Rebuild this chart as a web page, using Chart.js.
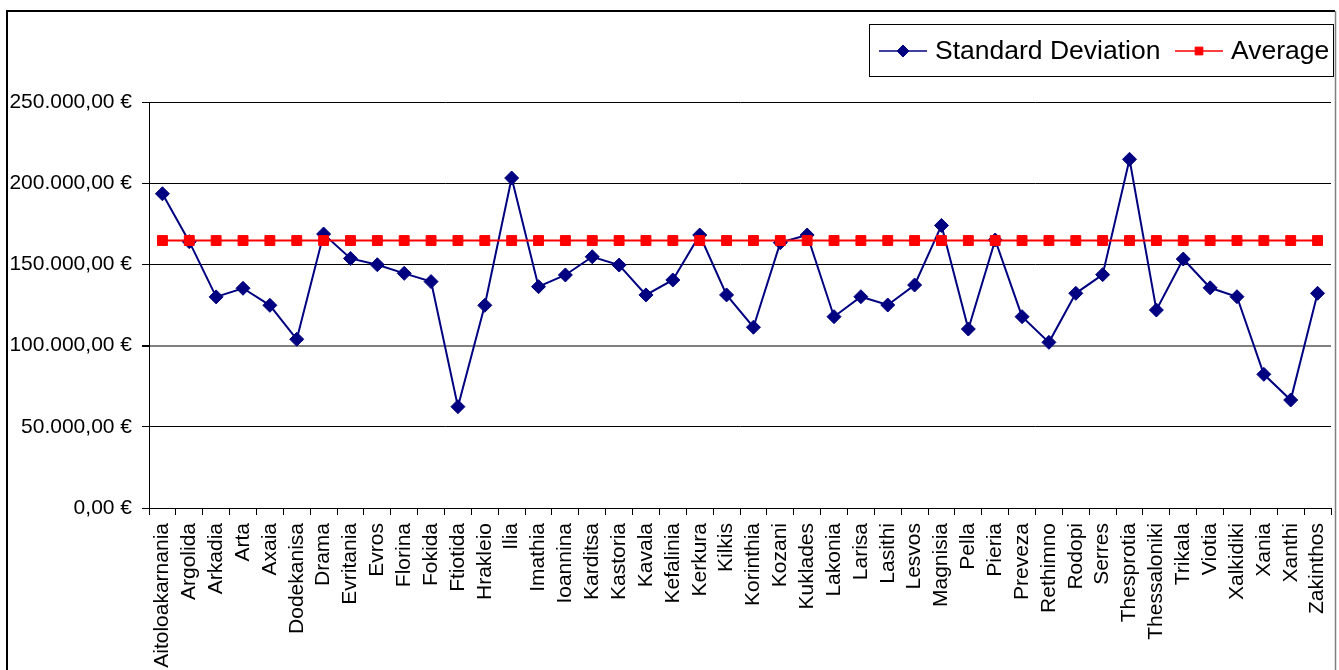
<!DOCTYPE html>
<html>
<head>
<meta charset="utf-8">
<script src="https://cdn.jsdelivr.net/npm/chart.js@4.4.1/dist/chart.umd.min.js"></script>
<style>
  html, body { margin: 0; padding: 0; background: #fff; overflow: hidden; }
  #contenedor { width: 1339px; height: 670px; position: relative; }
</style>
</head>
<body>
<div id="contenedor"><canvas id="grafico"></canvas></div>
<script>
// Datos
const nomos = [
  "Aitoloakarnania", "Argolida", "Arkadia", "Arta", "Axaia", "Dodekanisa", "Drama",
  "Evritania", "Evros", "Florina", "Fokida", "Ftiotida", "Hrakleio", "Ilia", "Imathia",
  "Ioannina", "Karditsa", "Kastoria", "Kavala", "Kefalinia", "Kerkura", "Kilkis",
  "Korinthia", "Kozani", "Kuklades", "Lakonia", "Larisa", "Lasithi", "Lesvos",
  "Magnisia", "Pella", "Pieria", "Preveza", "Rethimno", "Rodopi", "Serres",
  "Thesprotia", "Thessaloniki", "Trikala", "Viotia", "Xalkidiki", "Xania", "Xanthi",
  "Zakinthos"
];

const desviacion = [
  193500, 164000, 130000, 135300, 124800, 103900, 168700,
  153700, 149800, 144500, 139400, 62400, 124800, 203200, 136300,
  143500, 154700, 149600, 131200, 140400, 168100, 131200,
  111300, 163400, 168100, 117800, 130100, 125000, 137300,
  174000, 110200, 165000, 117800, 102000, 132200, 143700,
  214700, 121900, 153300, 135600, 130100, 82300, 66500,
  132200
];

const promedio = [
  164700, 164700, 164700, 164700, 164700, 164700, 164700,
  164700, 164700, 164700, 164700, 164700, 164700, 164700, 164700,
  164700, 164700, 164700, 164700, 164700, 164700, 164700,
  164700, 164700, 164700, 164700, 164700, 164700, 164700,
  164700, 164700, 164700, 164700, 164700, 164700, 164700,
  164700, 164700, 164700, 164700, 164700, 164700, 164700,
  164700
];

const ejeYMin = 0;
const ejeYMax = 250000;
const ejeYPaso = 50000;

const fuente = "'Liberation Sans', Arial, sans-serif";

// 250000 -> "250.000,00 €"
function formatoEuro(v) {
  const entero = Math.round(v).toString().replace(/\B(?=(\d{3})+(?!\d))/g, ".");
  return entero + ",00 €";
}

// Marco exterior del grafico
const marco = {
  id: "marco",
  afterDraw(chart) {
    const ctx = chart.ctx;
    ctx.save();
    ctx.strokeStyle = "#000";
    ctx.lineWidth = 2;
    ctx.beginPath();
    ctx.moveTo(7, 670);
    ctx.lineTo(7, 11);
    ctx.lineTo(1335, 11);
    ctx.stroke();
    ctx.strokeStyle = "#808080";
    ctx.lineWidth = 1.5;
    ctx.beginPath();
    ctx.moveTo(1335.5, 11);
    ctx.lineTo(1335.5, 670);
    ctx.stroke();
    ctx.restore();
  }
};

// Leyenda con linea y marcador, como en Excel
const leyenda = {
  id: "leyenda",
  afterDraw(chart) {
    const ctx = chart.ctx;
    const ds = chart.data.datasets;
    ctx.save();
    ctx.fillStyle = "#fff";
    ctx.fillRect(869.5, 24.5, 464, 52);
    ctx.strokeStyle = "#000";
    ctx.lineWidth = 1;
    ctx.strokeRect(869.5, 24.5, 464, 52);

    const items = [
      { d: ds[0], x: 879, r: 6 },
      { d: ds[1], x: 1175, r: 5.5 }
    ];
    const y = 51;
    items.forEach(it => {
      ctx.strokeStyle = it.d.borderColor;
      ctx.lineWidth = 1.5;
      ctx.beginPath();
      ctx.moveTo(it.x, y);
      ctx.lineTo(it.x + 48, y);
      ctx.stroke();
      ctx.fillStyle = it.d.backgroundColor;
      ctx.strokeStyle = it.d.borderColor;
      ctx.lineWidth = 1;
      Chart.helpers.drawPoint(ctx, { pointStyle: it.d.pointStyle, radius: it.r, rotation: 0, borderWidth: 1 }, it.x + 24, y);
      ctx.fillStyle = "#000";
      ctx.font = "26.5px " + fuente;
      ctx.textBaseline = "middle";
      ctx.textAlign = "left";
      ctx.fillText(it.d.label, it.x + 56, y + 1);
    });
    ctx.restore();
  }
};

const canvas = document.getElementById("grafico");

new Chart(canvas, {
  type: "line",
  data: {
    labels: nomos,
    datasets: [
      {
        label: "Standard Deviation",
        data: desviacion,
        borderColor: "#000080",
        backgroundColor: "#000080",
        borderWidth: 2,
        pointStyle: "rectRot",
        pointRadius: 7,
        pointBorderWidth: 1,
        tension: 0,
        order: 2
      },
      {
        label: "Average",
        data: promedio,
        borderColor: "#ff0000",
        backgroundColor: "#ff0000",
        borderWidth: 2,
        pointStyle: "rect",
        pointRadius: 7,
        pointBorderWidth: 1,
        tension: 0,
        order: 1
      }
    ]
  },
  options: {
    responsive: true,
    maintainAspectRatio: false,
    animation: false,
    layout: { padding: { top: 102, right: 3, left: 0, bottom: 0 } },
    plugins: {
      legend: { display: false },
      tooltip: { enabled: false }
    },
    scales: {
      x: {
        offset: true,
        grid: {
          offset: true,
          drawOnChartArea: false,
          drawTicks: true,
          tickLength: 7,
          color: "#000"
        },
        border: { color: "#000", width: 1 },
        ticks: {
          autoSkip: false,
          minRotation: 90,
          maxRotation: 90,
          padding: 8,
          color: "#000",
          font: { family: fuente, size: 21 }
        },
        afterFit: s => {
          s.height = 162;
          s.paddingLeft = 0;
          s.paddingRight = 0;
        }
      },
      y: {
        min: ejeYMin,
        max: ejeYMax,
        ticks: {
          stepSize: ejeYPaso,
          callback: v => formatoEuro(v),
          padding: 10,
          color: "#000",
          font: { family: fuente, size: 21 }
        },
        grid: {
          color: c => (c.tick && c.tick.value === 100000) ? "#808080" : "#000",
          lineWidth: c => (c.tick && c.tick.value === 100000) ? 2 : 1,
          tickColor: "#000",
          tickLength: 7
        },
        border: { color: "#000", width: 1 },
        afterFit: s => {
          s.width = 149;
          s.paddingTop = 0;
          s.paddingBottom = 0;
        }
      }
    }
  },
  plugins: [marco, leyenda]
});
</script>
</body>
</html>
